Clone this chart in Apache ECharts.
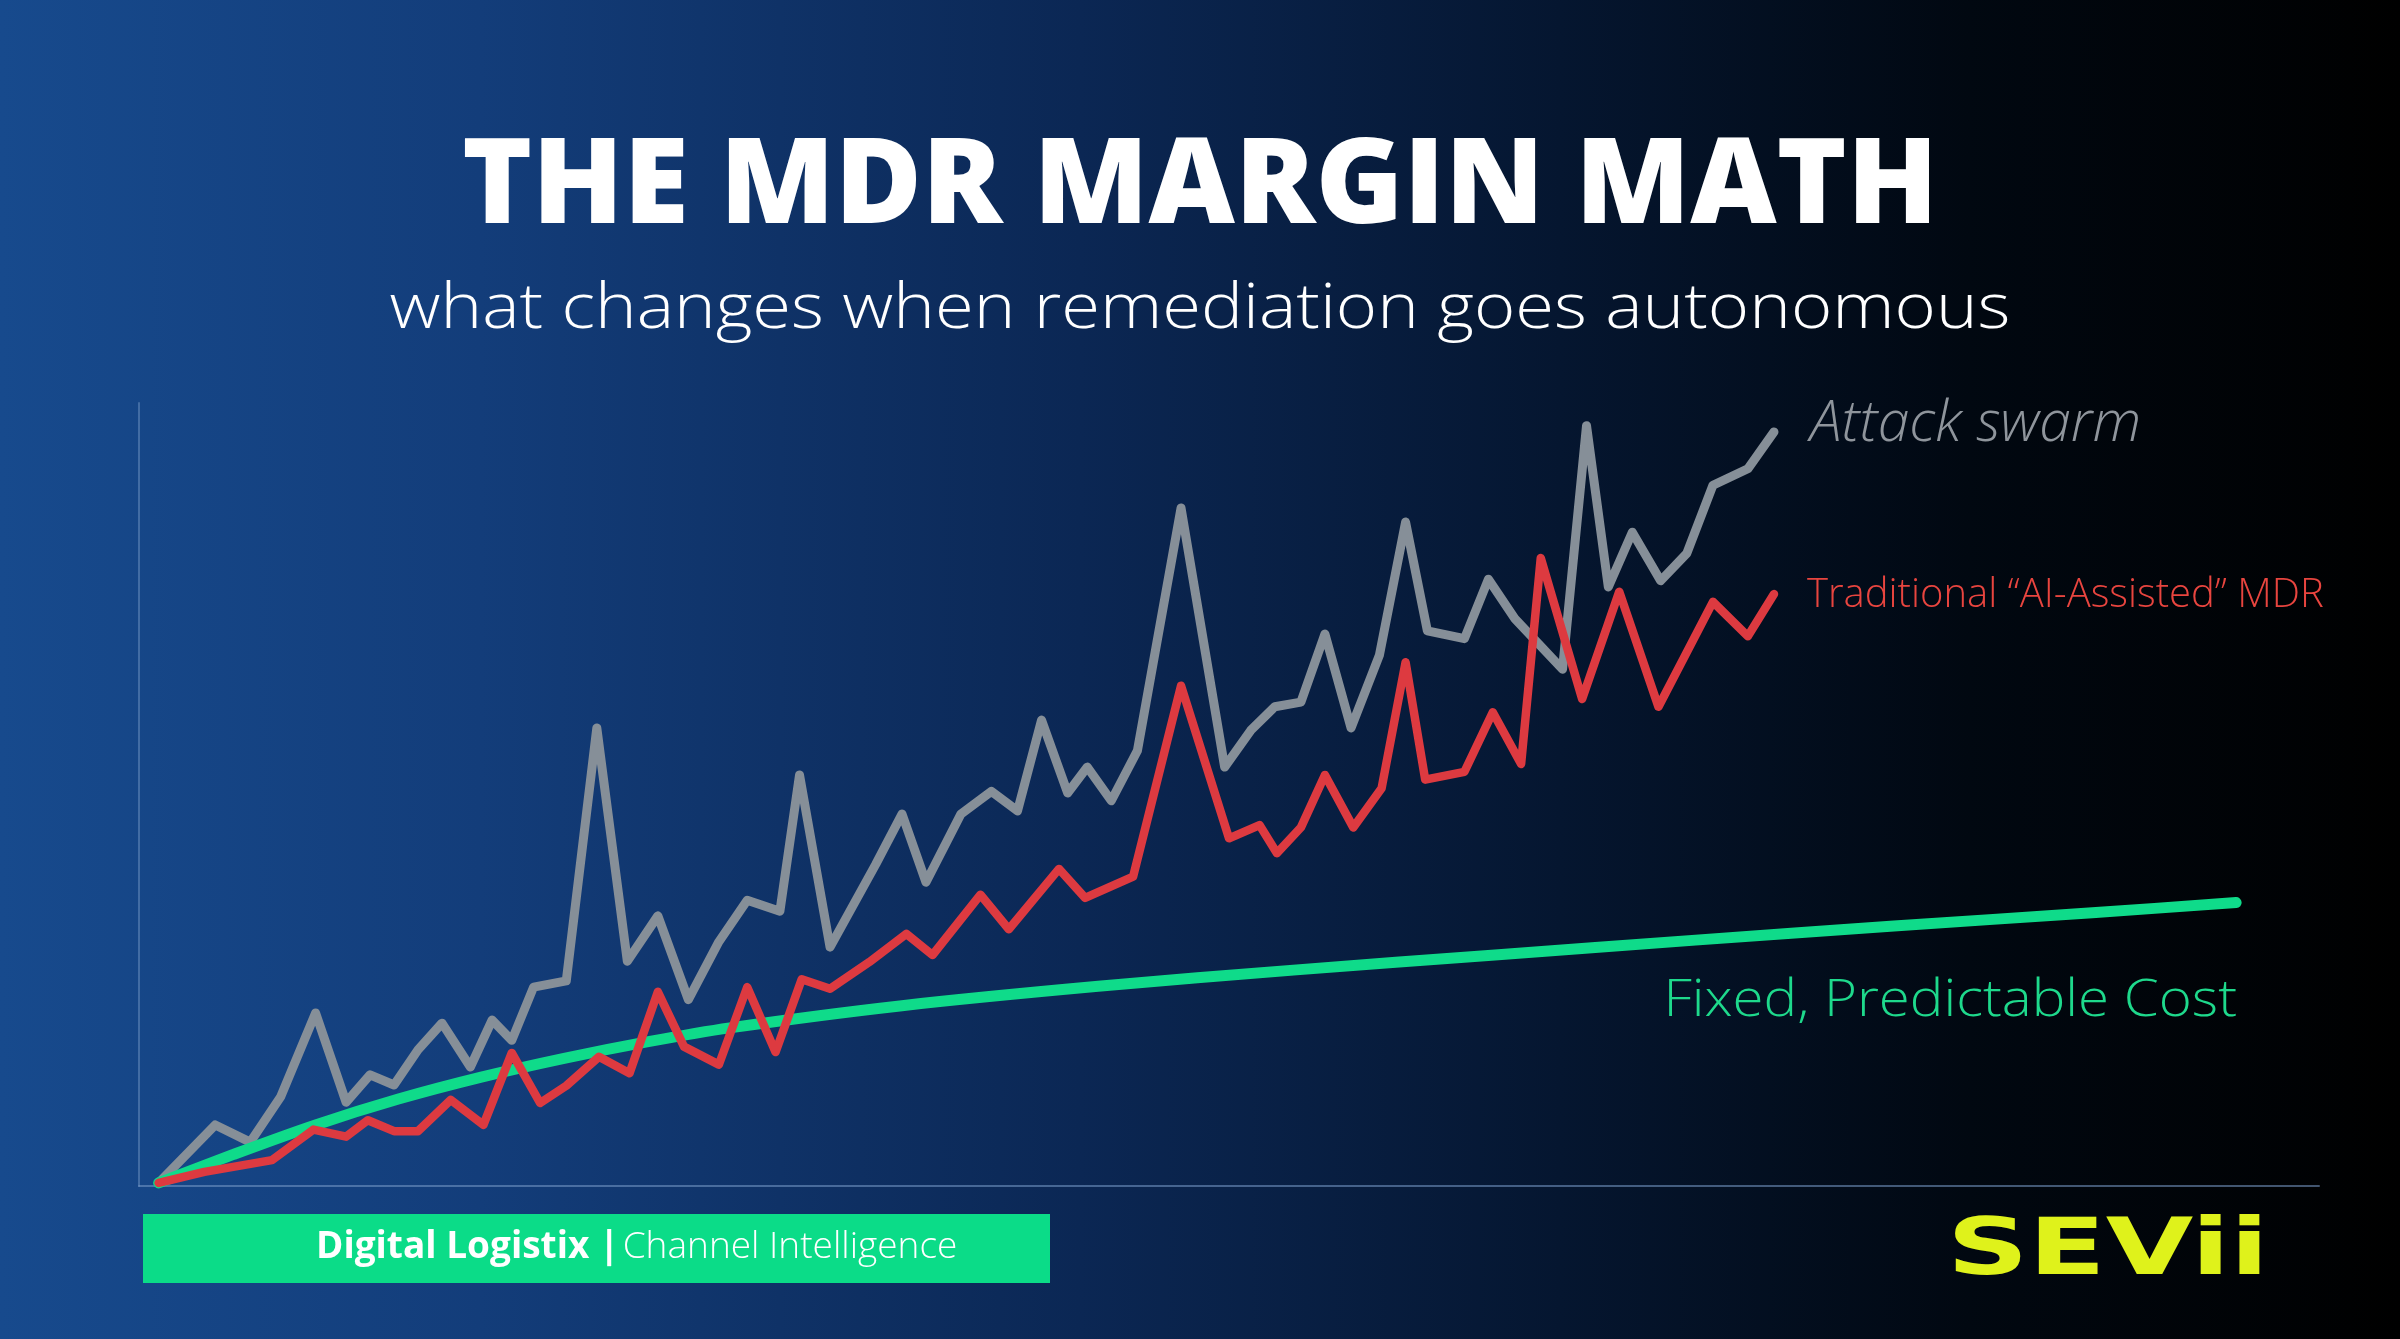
<!DOCTYPE html>
<html lang="en">
<head>
<meta charset="UTF-8" />
<title>The MDR Margin Math</title>
<script src="https://cdn.jsdelivr.net/npm/echarts@6.0.0/dist/echarts.min.js"></script>
<style>
  html, body { margin: 0; padding: 0; background: #000; }
  #chart { width: 2400px; height: 1339px; }
</style>
</head>
<body>
<div id="chart"></div>
<script>
// x = time (0-100 across the axis), y = cost (0-100 up the axis)
const attackX = [0.9, 3.5, 5.1, 6.5, 8.1, 9.5, 10.6, 11.7, 12.8, 13.9, 15.2, 16.2, 17.1, 18.1, 19.6, 21.0, 22.4, 23.8, 25.2, 26.6, 27.9, 29.4, 30.3, 31.7, 33.8, 35.0, 36.1, 37.7, 39.1, 40.3, 41.4, 42.6, 43.5, 44.6, 45.8, 47.8, 49.8, 51.0, 52.1, 53.3, 54.4, 55.6, 56.9, 58.1, 59.1, 60.8, 61.9, 63.1, 65.3, 66.4, 67.4, 68.5, 69.8, 71.0, 72.2, 73.8, 75.0];
const attackY = [0.4, 7.8, 5.6, 11.4, 22.1, 10.7, 14.2, 12.9, 17.4, 20.8, 15.2, 21.2, 18.6, 25.4, 26.2, 58.5, 28.7, 34.5, 23.8, 31.2, 36.5, 35.1, 52.5, 30.5, 41.1, 47.5, 38.8, 47.5, 50.4, 47.9, 59.5, 50.2, 53.5, 49.2, 55.6, 86.6, 53.5, 58.2, 61.2, 61.8, 70.5, 58.5, 67.8, 84.8, 70.9, 69.9, 77.5, 72.5, 66.0, 97.1, 76.5, 83.5, 77.3, 80.8, 89.5, 91.6, 96.3];

const mdrX = [0.9, 3.0, 6.1, 8.0, 9.5, 10.5, 11.7, 12.8, 14.3, 15.8, 17.1, 18.4, 19.6, 21.1, 22.5, 23.8, 25.0, 26.6, 27.9, 29.2, 30.4, 31.7, 33.5, 35.2, 36.4, 38.6, 39.9, 42.2, 43.4, 45.6, 47.8, 50.0, 51.4, 52.2, 53.3, 54.4, 55.7, 57.0, 58.1, 59.0, 60.8, 62.1, 63.4, 64.3, 66.2, 67.9, 69.7, 72.2, 73.8, 75.0];
const mdrY = [0.4, 1.8, 3.3, 7.2, 6.3, 8.4, 7.0, 7.0, 11.0, 7.8, 17.0, 10.6, 12.8, 16.5, 14.4, 24.8, 17.8, 15.5, 25.4, 17.1, 26.4, 25.2, 28.6, 32.2, 29.5, 37.2, 32.8, 40.5, 36.8, 39.5, 63.9, 44.4, 46.1, 42.5, 45.8, 52.5, 45.8, 50.8, 66.9, 51.9, 52.9, 60.5, 53.9, 80.2, 62.2, 75.9, 61.2, 74.6, 70.2, 75.6];

const fixedX = [0.9, 4.3, 8.1, 11.9, 15.7, 19.5, 23.3, 27.1, 34.9, 44.0, 53.1, 62.2, 71.4, 80.5, 89.6, 96.2];
const fixedY = [0.4, 4.0, 7.8, 11.1, 13.9, 16.3, 18.4, 20.2, 23.0, 25.5, 27.6, 29.5, 31.4, 33.2, 34.9, 36.2];

const seriesNames = ['Attack swarm', 'Traditional \u201cAI-Assisted\u201d MDR', 'Fixed, Predictable Cost'];

const pairs = (xs, ys) => xs.map((x, i) => [x, ys[i]]);

const chart = echarts.init(document.getElementById('chart'));

const lightFont = '"Open Sans", sans-serif';

const option = {
  animation: false,
  backgroundColor: {
    type: 'linear', x: 0, y: 0, x2: 1, y2: 0,
    colorStops: [
      { offset: 0, color: '#174a8d' },
      { offset: 0.2, color: '#133d7a' },
      { offset: 0.45, color: '#0b2754' },
      { offset: 0.65, color: '#051630' },
      { offset: 0.82, color: '#010811' },
      { offset: 1, color: '#000000' }
    ]
  },
  grid: { left: 139, right: 81, top: 403, bottom: 153 },
  xAxis: {
    type: 'value', min: 0, max: 100,
    axisLine: { show: true, lineStyle: { color: 'rgba(120,155,200,0.55)', width: 2 } },
    axisTick: { show: false }, axisLabel: { show: false }, splitLine: { show: false }
  },
  yAxis: {
    type: 'value', min: 0, max: 100,
    axisLine: { show: true, lineStyle: { color: 'rgba(120,155,200,0.45)', width: 2 } },
    axisTick: { show: false }, axisLabel: { show: false }, splitLine: { show: false }
  },
  series: [
    {
      name: seriesNames[0], type: 'line', data: pairs(attackX, attackY),
      showSymbol: false, z: 2,
      lineStyle: { color: '#868f98', width: 9, cap: 'round', join: 'round' },
      endLabel: {
        show: true, formatter: '{a}', offset: [28, -7],
        color: '#8f959c', fontFamily: lightFont, fontWeight: 300, fontStyle: 'italic', fontSize: 57
      }
    },
    {
      name: seriesNames[2], type: 'line', data: pairs(fixedX, fixedY),
      showSymbol: false, smooth: 0.3, z: 3,
      lineStyle: { color: '#0fdb8a', width: 11, cap: 'round', join: 'round' }
    },
    {
      name: seriesNames[1], type: 'line', data: pairs(mdrX, mdrY),
      showSymbol: false, z: 4,
      lineStyle: { color: '#dd3a40', width: 8.5, cap: 'round', join: 'round' },
      endLabel: {
        show: true, formatter: '{a}', offset: [25, 2],
        color: '#e8453f', fontFamily: lightFont, fontWeight: 300, fontSize: 40
      }
    }
  ],
  graphic: [
    {
      type: 'text', x: 1200, y: 189,
      style: {
        text: 'THE MDR MARGIN MATH', fill: '#ffffff',
        font: '800 119px "Open Sans", sans-serif',
        textAlign: 'center', textVerticalAlign: 'middle'
      }
    },
    {
      type: 'text', x: 1200, y: 310, scaleX: 1.12,
      style: {
        text: 'what changes when remediation goes autonomous', fill: '#ffffff',
        font: '300 63px "Open Sans", sans-serif',
        textAlign: 'center', textVerticalAlign: 'middle'
      }
    },
    {
      type: 'text', x: 2237, y: 1001, scaleX: 1.085,
      style: {
        text: seriesNames[2], fill: '#1ed98c',
        font: '300 52px "Open Sans", sans-serif',
        textAlign: 'right', textVerticalAlign: 'middle'
      }
    },
    {
      type: 'rect', shape: { x: 143, y: 1214, width: 907, height: 69 },
      style: { fill: '#0bdc88' }
    },
    {
      type: 'text', x: 316, y: 1247,
      style: {
        text: '{b|Digital Logistix |} {l|Channel Intelligence}',
        textVerticalAlign: 'middle',
        rich: {
          b: { fill: '#ffffff', fontFamily: lightFont, fontWeight: 700, fontSize: 37 },
          l: { fill: '#ffffff', fontFamily: lightFont, fontWeight: 300, fontSize: 37 }
        }
      }
    },
    {
      type: 'text', x: 1947, y: 1254, scaleX: 1.45,
      style: {
        text: 'SEVii', fill: '#dff21b',
        font: 'bold 78px "DejaVu Sans", sans-serif',
        textAlign: 'left', textVerticalAlign: 'middle'
      }
    }
  ]
};

chart.setOption(option);
</script>
</body>
</html>
